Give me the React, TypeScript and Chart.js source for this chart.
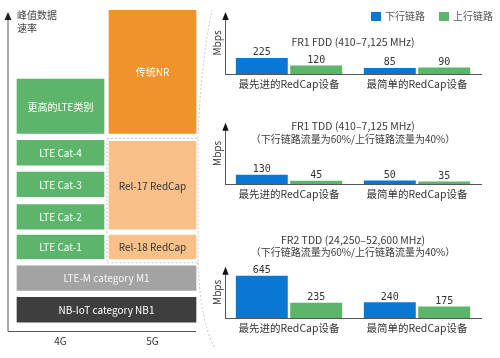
import React, { useEffect, useRef } from 'react';
import { Chart, registerables } from 'chart.js';

Chart.register(...registerables);

const FONT = '"Noto Sans CJK SC", "Noto Sans", sans-serif';
const MONO = '"DejaVu Sans Mono", monospace';

// ---------- Left diagram data ----------
const axisTitleLines = ['峰值数据', '速率'];
const columnLabels = ['4G', '5G'];
const blockNames = [
  'NB-IoT category NB1',
  'LTE-M category M1',
  'LTE Cat-1',
  'LTE Cat-2',
  'LTE Cat-3',
  'LTE Cat-4',
  '更高的LTE类别',
  'Rel-18 RedCap',
  'Rel-17 RedCap',
  '传统NR',
];
const blockColumns = ['4G+5G', '4G+5G', '4G', '4G', '4G', '4G', '4G', '5G', '5G', '5G'];
const blockLow = [9, 41, 73, 103, 136, 168, 200, 73, 103, 200];
const blockHigh = [34, 66, 97, 128, 161, 193, 255, 97, 192, 325];
const blockKinds = ['nbiot', 'ltem', 'lte', 'lte', 'lte', 'lte', 'lte', 'redcap', 'redcap', 'nr'];

// ---------- Right charts data ----------
const deviceCategories = ['最先进的RedCap设备', '最简单的RedCap设备'];
const seriesNames = ['下行链路', '上行链路'];
const fr1FddDownlink = [225, 85];
const fr1FddUplink = [120, 90];
const fr1TddDownlink = [130, 50];
const fr1TddUplink = [45, 35];
const fr2TddDownlink = [645, 240];
const fr2TddUplink = [235, 175];
const fr1FddTitle = ['FR1 FDD (410–7,125 MHz)'];
const fr1TddTitle = ['FR1 TDD (410–7,125 MHz)', '（下行链路流量为60%/上行链路流量为40%）'];
const fr2TddTitle = ['FR2 TDD (24,250–52,600 MHz)', '（下行链路流量为60%/上行链路流量为40%）'];

const BLUE = '#0a78d2';
const GREEN = '#5cb56b';

const kindStyle: Record<string, { bg: string; fg: string }> = {
  nbiot: { bg: '#3e3e3e', fg: '#ffffff' },
  ltem: { bg: '#a3a3a3', fg: '#f6f6f6' },
  lte: { bg: '#5cb56b', fg: '#ffffff' },
  redcap: { bg: '#f9c08a', fg: '#333333' },
  nr: { bg: '#f0932b', fg: '#ffffff' },
};
const columnPos: Record<string, number> = { '4G': 0.5, '5G': 1.5, '4G+5G': 1 };
const columnWidth: Record<string, number> = { '4G': 87, '5G': 87, '4G+5G': 179 };

function LeftDiagram() {
  const ref = useRef<HTMLCanvasElement>(null);
  useEffect(() => {
    if (!ref.current) return;
    const datasets = blockNames.map((name, i) => ({
      label: name,
      data: [{ x: columnPos[blockColumns[i]], y: [blockLow[i], blockHigh[i]] }],
      backgroundColor: kindStyle[blockKinds[i]].bg,
      barThickness: columnWidth[blockColumns[i]],
      grouped: false,
      borderWidth: 0,
    }));
    const plugin = {
      id: 'leftDecor',
      afterDatasetsDraw(chart: any) {
        const ctx = chart.ctx;
        const ca = chart.chartArea;
        ctx.save();
        // block labels
        chart.data.datasets.forEach((ds: any, i: number) => {
          const meta = chart.getDatasetMeta(i);
          meta.data.forEach((el: any) => {
            ctx.fillStyle = kindStyle[blockKinds[i]].fg;
            ctx.font = `10px ${FONT}`;
            ctx.textAlign = 'center';
            ctx.textBaseline = 'middle';
            ctx.fillText(ds.label, el.x, (el.y + el.base) / 2 + 0.5);
          });
        });
        // dashed box around RedCap
        const r18 = chart.getDatasetMeta(7).data[0];
        const r17 = chart.getDatasetMeta(8).data[0];
        const bx0 = r17.x - r17.width / 2 - 2;
        const bx1 = r17.x + r17.width / 2 + 2;
        const by0 = r17.y - 3;
        const by1 = r18.base + 4;
        ctx.strokeStyle = '#c4c4c4';
        ctx.lineWidth = 1;
        ctx.setLineDash([2, 2]);
        ctx.strokeRect(bx0, by0, bx1 - bx0, by1 - by0);
        ctx.beginPath();
        ctx.moveTo(bx1, by0);
        ctx.quadraticCurveTo(bx1 + 3, 60, 212, 10);
        ctx.moveTo(bx1, by1);
        ctx.quadraticCurveTo(bx1 + 2, 320, 215, 349);
        ctx.stroke();
        ctx.setLineDash([]);
        // axes
        const ax = ca.left - 6.5;
        const nb = chart.getDatasetMeta(0).data[0];
        const xEnd = nb.x + nb.width / 2;
        ctx.strokeStyle = '#555555';
        ctx.lineWidth = 1;
        ctx.beginPath();
        ctx.moveTo(ax, ca.top + 8);
        ctx.lineTo(ax, ca.bottom + 0.5);
        ctx.lineTo(xEnd, ca.bottom + 0.5);
        ctx.stroke();
        ctx.fillStyle = '#222222';
        ctx.beginPath();
        ctx.moveTo(ax, ca.top + 2);
        ctx.lineTo(ax - 3.5, ca.top + 10);
        ctx.lineTo(ax + 3.5, ca.top + 10);
        ctx.closePath();
        ctx.fill();
        // axis title
        ctx.fillStyle = '#444444';
        ctx.font = `10px ${FONT}`;
        ctx.textAlign = 'left';
        ctx.textBaseline = 'middle';
        axisTitleLines.forEach((t, k) => ctx.fillText(t, ax + 9, 15 + k * 13));
        ctx.restore();
      },
    };
    const chart = new Chart(ref.current, {
      type: 'bar',
      data: { datasets: datasets as any },
      options: {
        animation: false,
        responsive: false,
        events: [],
        layout: { padding: { left: 14.5, right: 21.5, top: 10, bottom: 7 } },
        plugins: { legend: { display: false }, tooltip: { enabled: false } },
        scales: {
          x: {
            type: 'linear',
            min: 0,
            max: 2,
            offset: false,
            grid: { display: false, drawTicks: false },
            border: { display: false },
            afterBuildTicks: (scale: any) => {
              scale.ticks = columnLabels.map((_, i) => ({ value: i + 0.5 }));
            },
            ticks: {
              padding: 4,
              color: '#333333',
              font: { family: FONT, size: 10 },
              callback: (v: any) => columnLabels[Math.round(Number(v) - 0.5)] ?? '',
              maxRotation: 0,
            },
          },
          y: { display: false, min: 0, max: 325 },
        },
      },
      plugins: [plugin],
    } as any);
    return () => chart.destroy();
  }, []);
  return <canvas ref={ref} width={220} height={358} style={{ position: 'absolute', left: 0, top: 0, width: 220, height: 358 }} />;
}

type RCProps = {
  top: number;
  height: number;
  padTop: number;
  padBottom: number;
  max: number;
  downlink: number[];
  uplink: number[];
  title: string[];
  titleY: number[];
};

function RateChart(p: RCProps) {
  const ref = useRef<HTMLCanvasElement>(null);
  useEffect(() => {
    if (!ref.current) return;
    const plugin = {
      id: 'rateDecor',
      afterDatasetsDraw(chart: any) {
        const ctx = chart.ctx;
        const ca = chart.chartArea;
        ctx.save();
        // arrow y axis
        const ax = Math.round(ca.left) + 0.5;
        ctx.strokeStyle = '#555555';
        ctx.lineWidth = 1;
        ctx.beginPath();
        ctx.moveTo(ax, ca.top + 6);
        ctx.lineTo(ax, ca.bottom);
        ctx.stroke();
        ctx.fillStyle = '#111111';
        ctx.beginPath();
        ctx.moveTo(ax, ca.top);
        ctx.lineTo(ax - 3.2, ca.top + 8);
        ctx.lineTo(ax + 3.2, ca.top + 8);
        ctx.closePath();
        ctx.fill();
        // value labels
        ctx.fillStyle = '#333333';
        ctx.font = `10px ${MONO}`;
        ctx.textAlign = 'center';
        ctx.textBaseline = 'alphabetic';
        chart.data.datasets.forEach((ds: any, i: number) => {
          chart.getDatasetMeta(i).data.forEach((el: any, j: number) => {
            ctx.fillText(String(ds.data[j]), el.x, el.y - 2.5);
          });
        });
        // titles
        ctx.fillStyle = '#3a3a3a';
        ctx.textBaseline = 'middle';
        const cx = (ca.left + ca.right) / 2;
        p.title.forEach((t, k) => {
          ctx.font = `${k === 0 ? 10.5 : 10}px ${FONT}`;
          ctx.fillText(t, cx, p.titleY[k]);
        });
        ctx.restore();
      },
    };
    const chart = new Chart(ref.current, {
      type: 'bar',
      data: {
        labels: deviceCategories,
        datasets: [
          { label: seriesNames[0], data: p.downlink, backgroundColor: BLUE, categoryPercentage: 0.85, barPercentage: 0.955 },
          { label: seriesNames[1], data: p.uplink, backgroundColor: GREEN, categoryPercentage: 0.85, barPercentage: 0.955 },
        ],
      },
      options: {
        animation: false,
        responsive: false,
        events: [],
        layout: { padding: { left: 6, right: 19, top: p.padTop, bottom: p.padBottom } },
        plugins: { legend: { display: false }, tooltip: { enabled: false } },
        scales: {
          x: {
            grid: { display: false, drawTicks: false },
            border: { display: true, color: '#555555', width: 1 },
            ticks: { padding: 4, color: '#333333', font: { family: FONT, size: 10.5 }, maxRotation: 0, autoSkip: false },
          },
          y: {
            min: 0,
            max: p.max,
            grid: { display: false, drawTicks: false },
            border: { display: false },
            ticks: { display: false },
            title: { display: true, text: 'Mbps', color: '#333333', font: { family: FONT, size: 10 }, padding: { top: 0, bottom: 2 } },
          },
        },
      },
      plugins: [plugin],
    } as any);
    return () => chart.destroy();
  }, []);
  return (
    <canvas
      ref={ref}
      width={295}
      height={p.height}
      style={{ position: 'absolute', left: 205, top: p.top, width: 295, height: p.height }}
    />
  );
}

function Legend() {
  const item = (color: string, text: string, left: number) => (
    <div style={{ position: 'absolute', left, top: 8, height: 16, display: 'flex', alignItems: 'center', whiteSpace: 'nowrap' }}>
      <span style={{ display: 'inline-block', width: 10, height: 9, background: color, marginRight: 4 }} />
      <span style={{ fontFamily: FONT, fontSize: 10, color: '#555555', lineHeight: '16px' }}>{text}</span>
    </div>
  );
  return (
    <>
      {item(BLUE, seriesNames[0], 371)}
      {item(GREEN, seriesNames[1], 439)}
    </>
  );
}

export default function App() {
  return (
    <div style={{ position: 'absolute', left: 0, top: 0, width: 500, height: 358, background: '#ffffff', overflow: 'hidden' }}>
      <LeftDiagram />
      <RateChart top={0} height={100} padTop={12} padBottom={5.4} max={870} downlink={fr1FddDownlink} uplink={fr1FddUplink} title={fr1FddTitle} titleY={[42]} />
      <RateChart top={100} height={110} padTop={22.7} padBottom={5.4} max={870} downlink={fr1TddDownlink} uplink={fr1TddUplink} title={fr1TddTitle} titleY={[26, 39]} />
      <RateChart top={220} height={138} padTop={46.7} padBottom={19.4} max={785} downlink={fr2TddDownlink} uplink={fr2TddUplink} title={fr2TddTitle} titleY={[20, 32.7]} />
      <Legend />
    </div>
  );
}
